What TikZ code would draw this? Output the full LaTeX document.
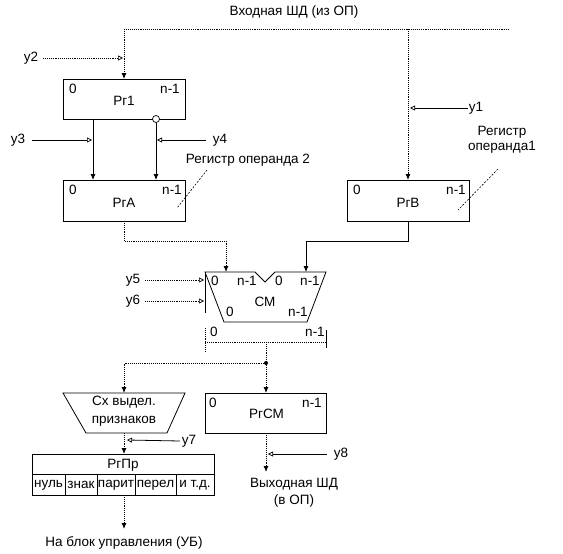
\documentclass[tikz,border=0pt]{standalone}
\usepackage{fontspec}
\setmainfont{Liberation Sans}
\usetikzlibrary{arrows.meta,calc}
\begin{document}
\begin{tikzpicture}[x=1pt,y=-1pt,
  font=\fontsize{13.5}{15}\selectfont,
  every node/.style={inner sep=0pt, outer sep=0pt},
  reg/.style={draw, line width=0.8pt, minimum width=122pt, minimum height=41pt},
  bus/.style={densely dotted, line width=0.9pt},
  wire/.style={line width=0.8pt},
  arr/.style={-{Latex[length=6pt,width=5pt]}},
  ctl/.style={-{Triangle[open,length=5pt,width=5pt,line width=0.7pt]}},
  lead/.style={line width=0.6pt, dash pattern=on 2pt off 1.5pt}]
\useasboundingbox (0,0) rectangle (563,554);

% input bus
\node (title) at (294,12) {Входная ШД (из ОП)};
\coordinate (busL) at (124,29);
\coordinate (busR) at (509,29);
\coordinate (busB) at (408,29);
\draw[bus] (busR) -- (busL);

% Pr1
\node[reg, minimum height=40pt] (pr1) at (124,99) {};
\node (pr1z) at ($(pr1.north west)+(10,10)$) {0};
\node (pr1n) at ($(pr1.north east)+(-15,10)$) {n-1};
\node (pr1t) at ($(pr1.center)+(0,2)$) {Рг1};
\draw[bus,arr] (busL) -- (pr1.north);
\node (y2) at (31,58) {y2};
\coordinate (y2tip) at (123,58);
\draw[bus,ctl] ([xshift=5pt]y2.east) -- (y2tip);

% PrA
\coordinate (xl) at (93,0);
\coordinate (xr) at (156,0);
\node[reg] (pra) at (124,200.5) {};
\node (praz) at ($(pra.north west)+(10,10)$) {0};
\node (pran) at ($(pra.north east)+(-13,10)$) {n-1};
\node (prat) at ($(pra.center)+(0,2)$) {РгА};
\draw[wire,arr] (pr1.south -| xl) -- (pra.north -| xl);
\node[circle, draw, line width=0.7pt, fill=white, minimum size=7pt] (inv) at (pr1.south -| xr) {};
\draw[wire,arr] (inv.south) -- (pra.north -| xr);
\node (y3) at (18,140) {y3};
\coordinate (y3tip) at (92,140);
\draw[wire,ctl] ([xshift=7pt]y3.east) -- (y3tip);
\node (y4) at (220,140) {y4};
\coordinate (y4tip) at (157,140);
\draw[wire,ctl] ([xshift=-7pt]y4.west) -- (y4tip);
\node (ro2) at (248,160) {Регистр операнда 2};
\coordinate (l2a) at (207,170);
\coordinate (l2b) at (177,208);
\draw[lead] (l2a) -- (l2b);

% PrB
\node[reg] (prb) at (408,200.5) {};
\node (prbz) at ($(prb.north west)+(10,10)$) {0};
\node (prbn) at ($(prb.north east)+(-13,10)$) {n-1};
\node (prbt) at ($(prb.center)+(0,2)$) {РгВ};
\draw[bus,arr] (busB) -- (prb.north);
\node (y1) at (476,108) {y1};
\coordinate (y1tip) at (410,108);
\draw[wire,ctl] ([xshift=-1pt]y1.west) -- (y1tip);
\node[align=center] (ro1) at (502,140) {Регистр\\операнда1};
\coordinate (l1a) at (498,169);
\coordinate (l1b) at (458,210);
\draw[lead] (l1a) -- (l1b);

% adder CM
\draw[wire] (205,272) -- (255,272) -- (265,282) -- (275,272) -- (326,272)
  -- (307,322) -- (224,322) -- cycle;
\draw[wire] (205,272) -- (205,313);
\coordinate (cmA) at (226,272);
\coordinate (cmB) at (306,272);
\draw[bus,arr] (pra.south) -- ++(0,20) -| (cmA);
\draw[wire,arr] (prb.south) -- ++(0,20) -| (cmB);
\node (cm0a) at (215,281) {0};
\node (cm1a) at (247,281) {n-1};
\node (cm0b) at (279,281) {0};
\node (cm1b) at (310,281) {n-1};
\node (cmt) at (265,302) {СМ};
\node (cm0c) at (230,312) {0};
\node (cm1c) at (298,312) {n-1};
\node (y5) at (133,280) {y5};
\coordinate (y5tip) at (204,280);
\draw[bus,ctl] ([xshift=5pt]y5.east) -- (y5tip);
\node (y6) at (133,301) {y6};
\coordinate (y6tip) at (204,301);
\draw[bus,ctl] ([xshift=5pt]y6.east) -- (y6tip);

% output bracket
\node (b0) at (214,332) {0};
\node (b1) at (315,332) {n-1};
\draw[bus] (205,328) -- (205,352);
\draw[bus] (205,342) -- (326,342);
\draw[wire] (326,330) -- (326,348);
\coordinate (bc) at (266,342);
\coordinate (jn) at (266,363);
\coordinate (sxtop) at (124,393);
\draw[bus] (bc) -- (jn);
\fill (jn) circle (2);

% PrCM
\node[reg, minimum width=121pt, minimum height=40pt] (prcm) at (265.5,413) {};
\node (prcmz) at ($(prcm.north west)+(8,10)$) {0};
\node (prcmn) at ($(prcm.north east)+(-14,10)$) {n-1};
\node (prcmt) at ($(prcm.center)+(1,1)$) {РгСМ};
\draw[bus,arr] (jn) -- (prcm.north -| jn);
\draw[bus,arr] (jn) -| (sxtop);
\coordinate (outtip) at (266,472);
\draw[bus,arr] (prcm.south -| jn) -- (outtip);
\node (y8) at (341,454) {y8};
\coordinate (y8tip) at (268,454);
\draw[wire,ctl] ([xshift=-7pt]y8.west) -- (y8tip);
\node[align=center] (outt) at (294,493) {Выходная ШД\\[2pt](в ОП)};

% feature circuit
\draw[wire] (63,393) -- (185,393) -- (167,433) -- (86,433) -- cycle;
\node[align=center] (sx) at (124,411) {Сх выдел.\\[3pt]признаков};
\coordinate (sxbot) at (124,433);

% flags register
\node[reg, minimum width=182pt] (prpr) at (123,474.5) {};
\draw[wire] (prpr.west) -- (prpr.east);
\foreach \x in {65,97,135,176} \draw[wire] (\x,474.5) -- (\x,495);
\node (prprt) at (123,465) {РгПр};
\node (f1) at (48.5,485) {нуль};
\node (f2) at (81,485) {знак};
\node (f3) at (116,485) {парит};
\node (f4) at (155.5,485) {перел};
\node (f5) at (195,485) {и т.д.};
\draw[bus,arr] (sxbot) -- (prpr.north -| sxbot);
\node (y7) at (189,441) {y7};
\coordinate (y7tip) at (127,440);
\draw[wire,ctl] ([xshift=-2pt]y7.west) -- (y7tip);
\coordinate (ub) at (124,529);
\draw[bus,arr] (prpr.south -| sxbot) -- (ub);
\node (ubt) at (124,543) {На блок управления (УБ)};
\end{tikzpicture}
\end{document}
